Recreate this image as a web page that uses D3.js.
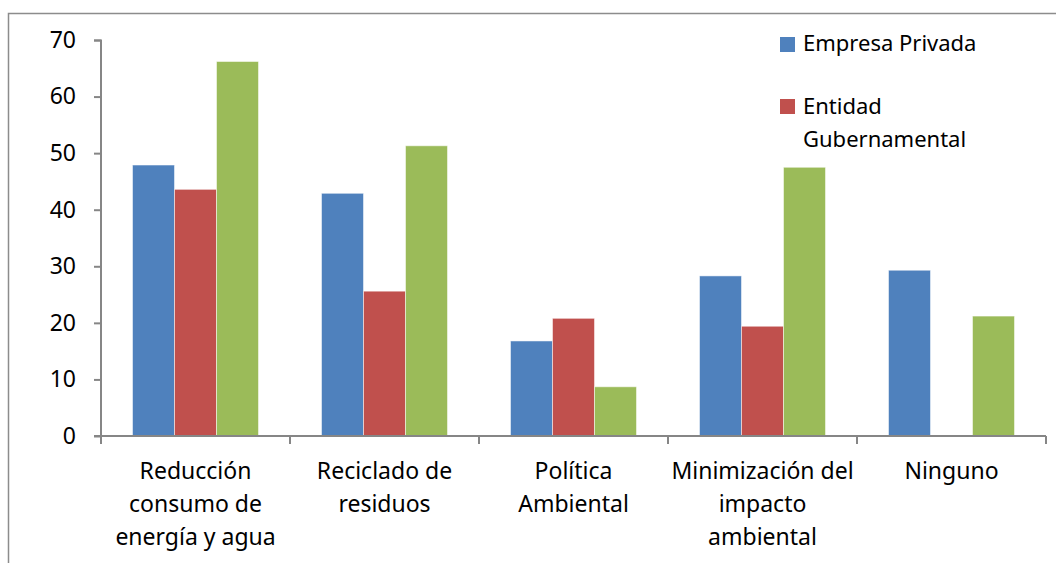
<!DOCTYPE html>
<html>
<head>
<meta charset="utf-8">
<script src="https://cdn.jsdelivr.net/npm/d3@7"></script>
<style>
  html, body { margin: 0; padding: 0; background: #fff; overflow: hidden; }
  text { font-family: "Noto Sans", "Open Sans", sans-serif; fill: #000; }
</style>
</head>
<body>
<div id="chart"></div>
<script>
// categories (x axis labels, split into lines)
const categories = [
  ['Reducción', 'consumo de', 'energía y agua'],
  ['Reciclado de', 'residuos'],
  ['Política', 'Ambiental'],
  ['Minimización del', 'impacto', 'ambiental'],
  ['Ninguno']
];
const seriesNames = ['Empresa Privada', 'Entidad Gubernamental', 'Otro'];
const empresaPrivada = [47.9, 42.9, 16.8, 28.3, 29.3];
const entidadGubernamental = [43.6, 25.6, 20.8, 19.4, 0];
const tercerGrupo = [66.2, 51.3, 8.7, 47.5, 21.2];
const yTicks = [0, 10, 20, 30, 40, 50, 60, 70];
const colors = ['#4f81bd', '#c0504d', '#9bbb59'];

const width = 1056, height = 563;
const margin = { top: 40, right: 10, bottom: 127, left: 101 };
const innerWidth = 945;
const innerHeight = height - margin.top - margin.bottom;

const svg = d3.select('#chart').append('svg')
  .attr('width', width).attr('height', height)
  .style('display', 'block');

// outer chart border (only top and left edges are in view)
svg.append('path')
  .attr('d', `M8.5,${height}V13.5H${width}`)
  .attr('fill', 'none').attr('stroke', '#8c8c8c').attr('stroke-width', 1.5);

const g = svg.append('g').attr('transform', `translate(${margin.left},${margin.top})`);

const keys = categories.map((c, i) => i);
const x0 = d3.scaleBand().domain(keys).range([0, innerWidth]).paddingInner(0).paddingOuter(0);
const x1 = d3.scaleBand().domain([0, 1, 2]).range([x0.bandwidth() / 6, x0.bandwidth() * 5 / 6]);
const y = d3.scaleLinear().domain([0, 70]).range([innerHeight, 0]);

const values = [empresaPrivada, entidadGubernamental, tercerGrupo];

// bars
values.forEach((vals, s) => {
  g.selectAll('.bar-' + s)
    .data(vals)
    .enter().append('rect')
    .attr('x', (d, i) => x0(i) + x1(s))
    .attr('y', d => y(d))
    .attr('width', x1.bandwidth())
    .attr('height', d => innerHeight - y(d))
    .attr('fill', colors[s])
    .attr('stroke', d => d > 0 ? 'rgba(255,255,255,0.5)' : 'none')
    .attr('stroke-width', 1);
});

// y axis
const yAxis = g.append('g')
  .call(d3.axisLeft(y).tickValues(yTicks).tickSize(7).tickPadding(18));
yAxis.selectAll('path, line').attr('stroke', '#868686').attr('stroke-width', 2);
yAxis.select('.domain').attr('d', `M-7,0.5H0V${innerHeight}`);
yAxis.selectAll('text').style('font-size', '23px').attr('fill', '#000');

// x axis with ticks at category boundaries
const xAxis = g.append('g').attr('transform', `translate(0,${innerHeight})`);
xAxis.append('line')
  .attr('x1', -7).attr('x2', innerWidth)
  .attr('stroke', '#868686').attr('stroke-width', 2);
xAxis.selectAll('.xtick')
  .data(keys.concat([keys.length]))
  .enter().append('line')
  .attr('x1', d => d < keys.length ? x0(d) : innerWidth)
  .attr('x2', d => d < keys.length ? x0(d) : innerWidth)
  .attr('y1', 0).attr('y2', 8)
  .attr('stroke', '#868686').attr('stroke-width', 2);

const labels = xAxis.selectAll('.xlabel')
  .data(categories)
  .enter().append('text')
  .attr('text-anchor', 'middle')
  .style('font-size', '23px')
  .attr('transform', (d, i) => `translate(${x0(i) + x0.bandwidth() / 2},43)`);
labels.selectAll('tspan')
  .data(d => d)
  .enter().append('tspan')
  .attr('x', 0)
  .attr('y', (d, i) => i * 33)
  .text(d => d);

// legend (only two entries visible)
const legend = svg.append('g').attr('transform', 'translate(780,37)');
legend.append('rect').attr('x', 0).attr('y', 0).attr('width', 15).attr('height', 15).attr('fill', colors[0]);
legend.append('text').attr('x', 23).attr('y', 14).style('font-size', '22px').text(seriesNames[0]);
legend.append('rect').attr('x', 0).attr('y', 62).attr('width', 15).attr('height', 15).attr('fill', colors[1]);
const t2 = legend.append('text').style('font-size', '22px');
t2.append('tspan').attr('x', 23).attr('y', 77).text('Entidad');
t2.append('tspan').attr('x', 23).attr('y', 110).text('Gubernamental');
</script>
</body>
</html>
